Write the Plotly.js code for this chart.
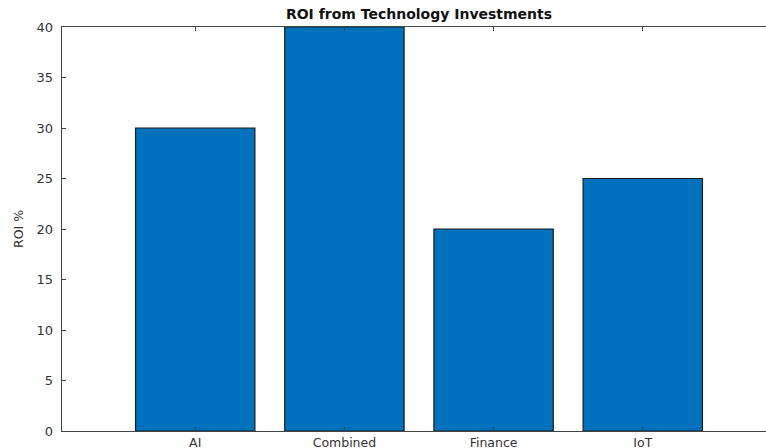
<!DOCTYPE html>
<html><head><meta charset="utf-8">
<script src="https://cdn.plot.ly/plotly-3.0.1.min.js"></script>
<style>html,body{margin:0;padding:0;overflow:hidden;background:#fff;width:766px;height:448px}#chart{width:800px;height:448px}</style>
</head><body><div id="chart"></div>
<script>
const categories = ["AI", "Combined", "Finance", "IoT"];
const roiValues = [30, 40, 20, 25];
const yTicks = [0, 5, 10, 15, 20, 25, 30, 35, 40];

const FONT = "DejaVu Sans, Verdana, sans-serif";
const trace = {
  type: "bar",
  x: categories,
  y: roiValues,
  width: 0.8,
  marker: {color: "#0072BD", line: {color: "#1a1a1a", width: 1.2}},
  hoverinfo: "skip"
};
const layout = {
  width: 800, height: 448,
  margin: {l: 62, r: 24, t: 27, b: 17, pad: 0},
  paper_bgcolor: "#fff", plot_bgcolor: "#fff",
  font: {family: FONT, size: 12, color: "#333"},
  title: {text: "<b>ROI from Technology Investments</b>", x: 0.5, xref: "paper", xanchor: "center",
          y: 0.969, yref: "container", yanchor: "middle",
          font: {size: 14, color: "#111", family: FONT}},
  showlegend: false,
  xaxis: {
    type: "category", range: [-0.893, 3.893],
    showline: true, linecolor: "#444", linewidth: 1.3, mirror: "ticks",
    ticks: "inside", ticklen: 4, tickcolor: "#444", tickwidth: 1,
    showgrid: false, zeroline: false, tickfont: {size: 12.5, color: "#333", family: FONT},
    ticklabelstandoff: 0
  },
  yaxis: {
    range: [0, 40], tickvals: yTicks, ticktext: yTicks.map(String),
    showline: true, linecolor: "#444", linewidth: 1.3, mirror: "ticks",
    ticks: "inside", ticklen: 4, tickcolor: "#444", tickwidth: 1,
    showgrid: false, zeroline: false, tickfont: {size: 13, color: "#333", family: FONT},
    ticklabelstandoff: 5,
    title: {text: "ROI %", font: {size: 12.5, color: "#333", family: FONT}, standoff: 10}
  }
};
Plotly.newPlot("chart", [trace], layout, {displayModeBar: false, staticPlot: true});
</script></body></html>
